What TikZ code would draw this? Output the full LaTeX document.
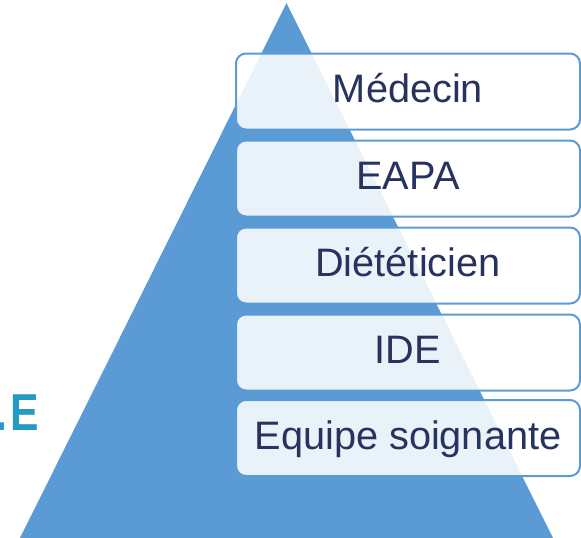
\documentclass[tikz,border=0pt]{standalone}
\usepackage{fontspec}
\setmainfont{Liberation Sans}
\definecolor{triblue}{RGB}{91,155,213}
\definecolor{navytext}{RGB}{40,50,95}
\definecolor{tealtext}{RGB}{35,155,195}
\begin{document}
\begin{tikzpicture}[x=1pt,y=-1pt,
  levelbox/.style={draw=triblue, line width=2pt, fill=white, fill opacity=0.87,
    text opacity=1, rounded corners=10pt, minimum width=344pt, minimum height=76pt,
    inner sep=0pt, text height=22pt, text depth=0pt, text=navytext,
    font=\fontsize{39.7}{47}\selectfont},
  sidetext/.style={text=tealtext, font=\bfseries\fontsize{52}{60}\selectfont, inner sep=0pt, xscale=0.82}]
\useasboundingbox (0,0) rectangle (581,538);
\clip (0,0) rectangle (581,538);
\fill[triblue] (286.5,3) -- (19,540) -- (554,540) -- cycle;
\node[sidetext, anchor=base east] (side) at (39,430) {.\kern3.5pt E};
\node[levelbox] (b1) at (408,91.5) {Médecin};
\node[levelbox] (b2) at (408,178.5) {EAPA};
\node[levelbox] (b3) at (408,265.5) {Diététicien};
\node[levelbox] (b4) at (408,352.5) {IDE};
\node[levelbox] (b5) at (408,438) {Equipe soignante};
\end{tikzpicture}
\end{document}
